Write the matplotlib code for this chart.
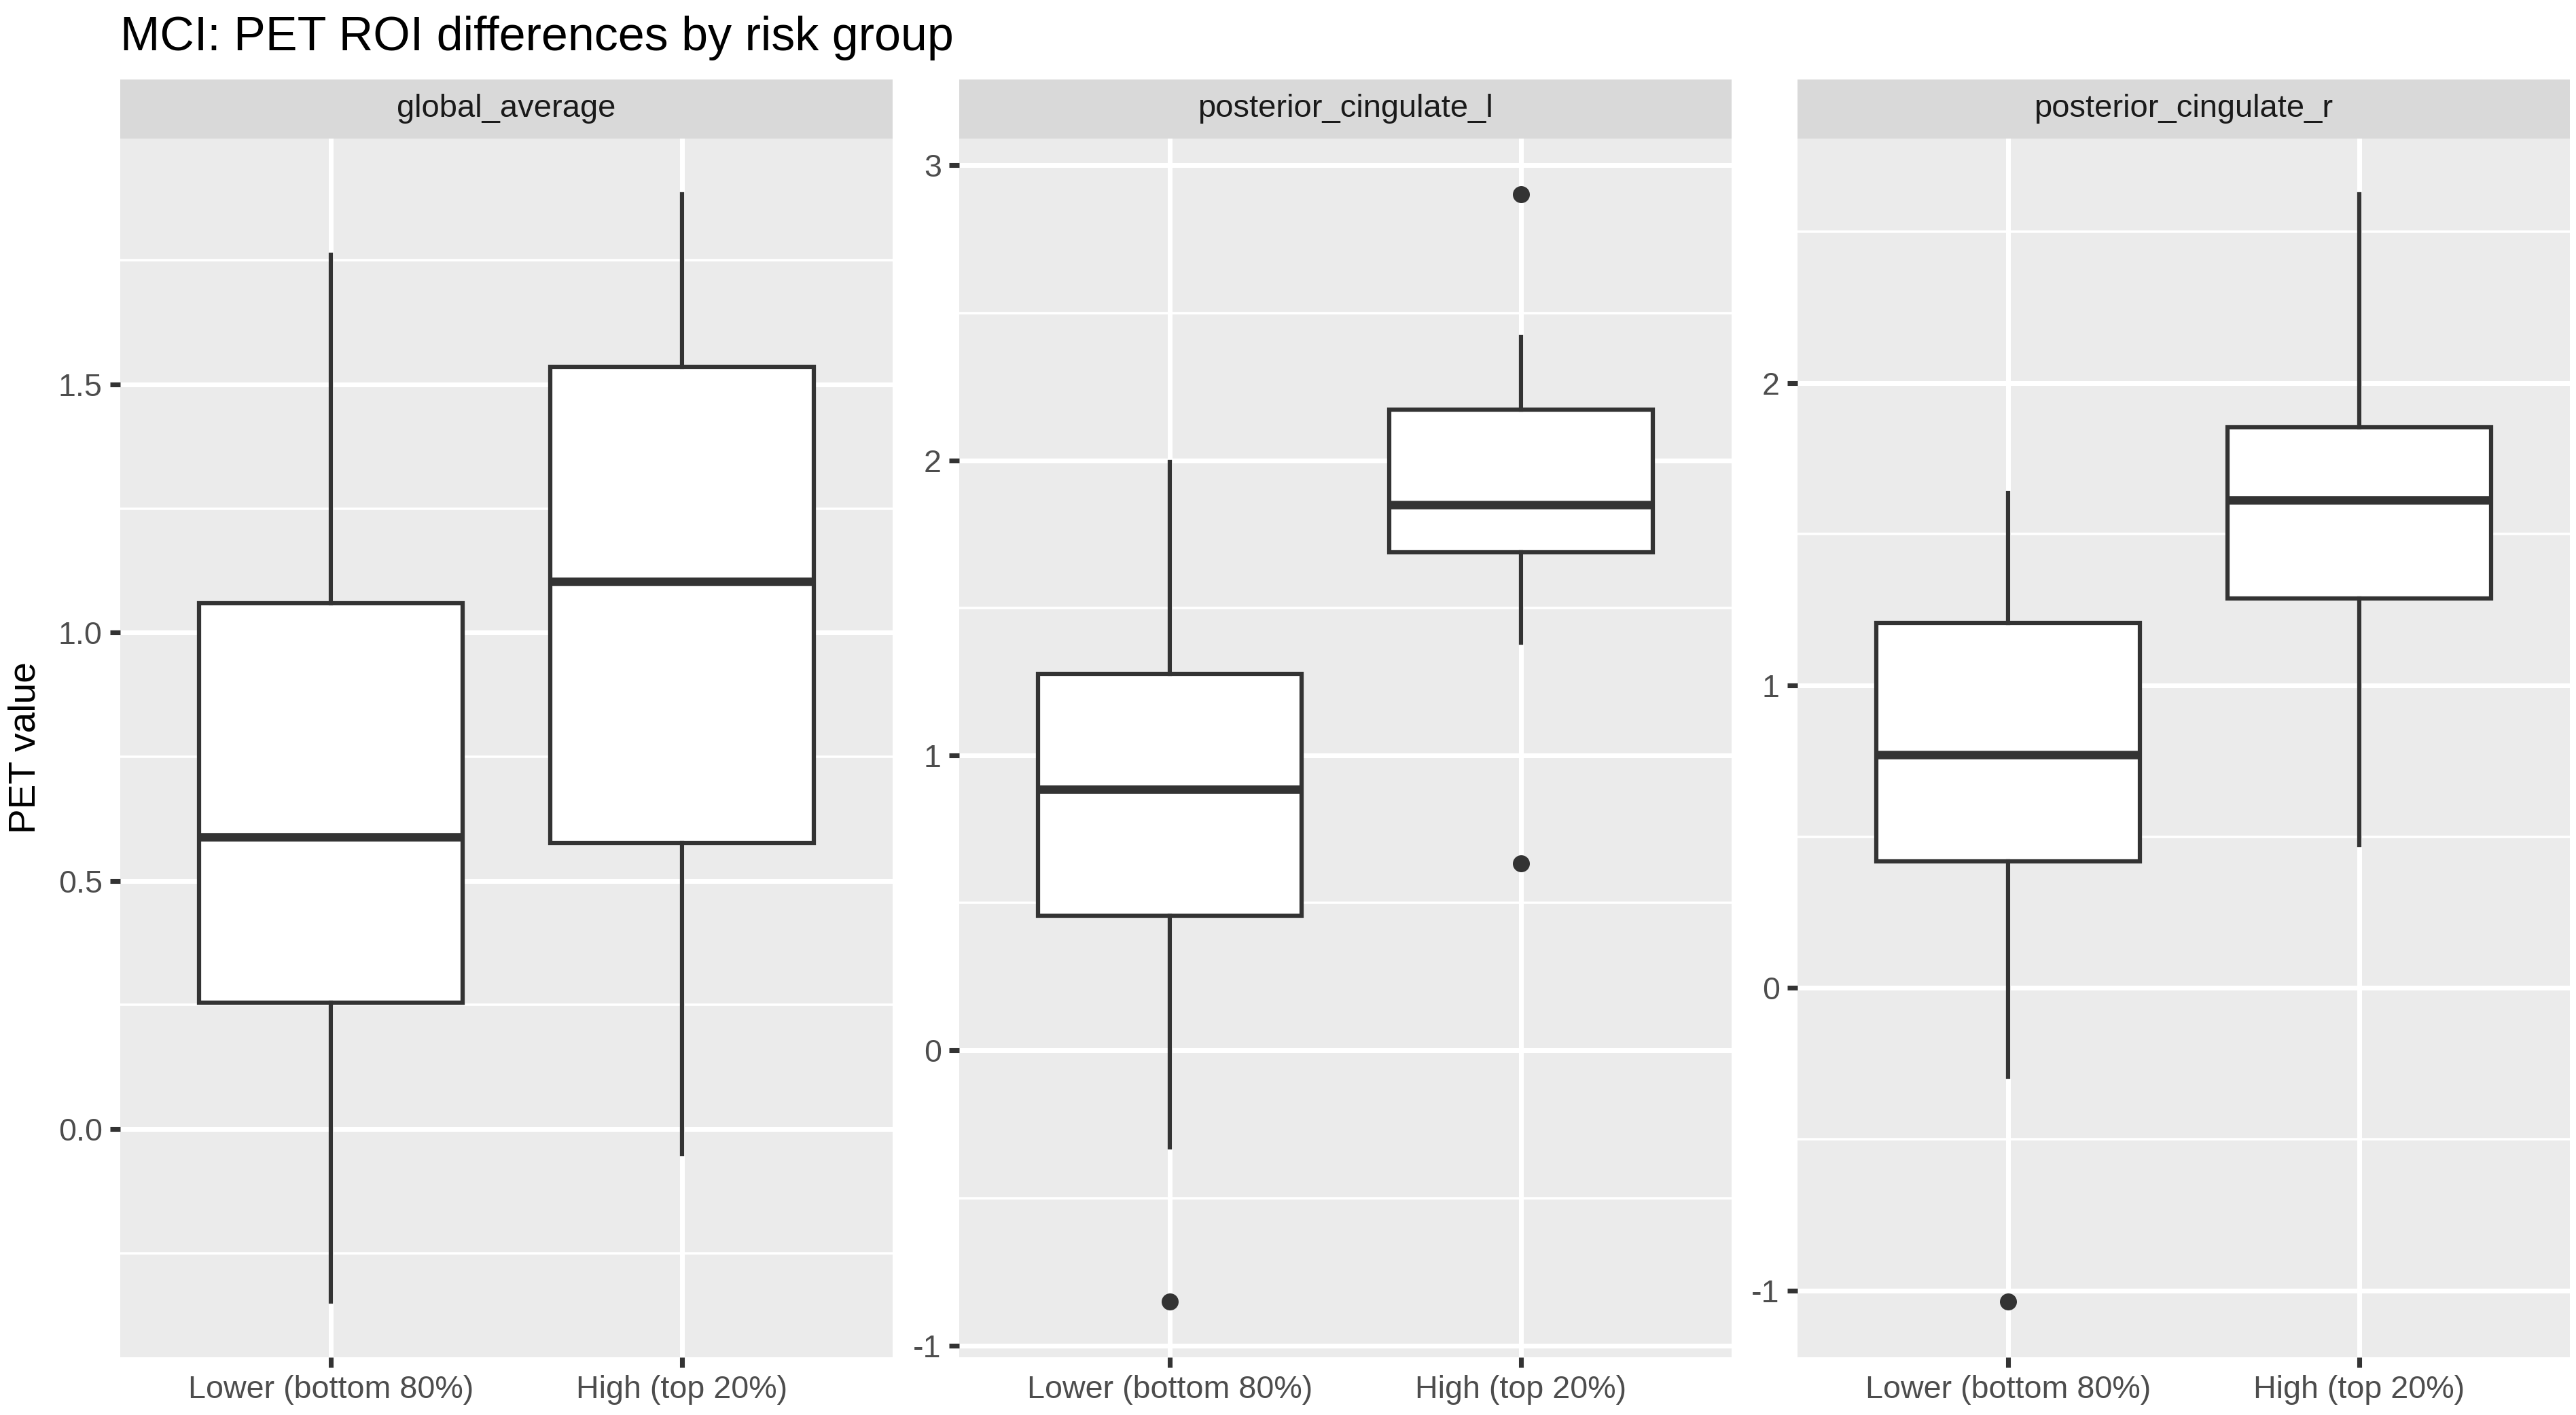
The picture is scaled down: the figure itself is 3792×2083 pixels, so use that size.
import matplotlib
matplotlib.use("Agg")
import matplotlib.pyplot as plt
from matplotlib.ticker import MultipleLocator

plt.rcParams['font.family'] = ['Liberation Sans', 'DejaVu Sans']

title = "MCI: PET ROI differences by risk group"
groups = ["Lower (bottom 80%)", "High (top 20%)"]
panels = ["global_average", "posterior_cingulate_l", "posterior_cingulate_r"]

# whisker low, q1, median, q3, whisker high, outliers
global_lower = [-0.348, 0.255, 0.589, 1.060, 1.762]
global_high = [-0.050, 0.576, 1.103, 1.536, 1.884]
global_out = [[], []]

pcl_lower = [-0.329, 0.457, 0.886, 1.276, 1.994]
pcl_high = [1.382, 1.688, 1.850, 2.173, 2.418]
pcl_out = [[-0.852], [2.903, 0.635]]

pcr_lower = [-0.293, 0.418, 0.772, 1.207, 1.636]
pcr_high = [0.473, 1.288, 1.614, 1.853, 2.625]
pcr_out = [[-1.038], []]

yticks = [[0.0, 0.5, 1.0, 1.5], [-1, 0, 1, 2, 3], [-1, 0, 1, 2]]
ytick_labels = [["0.0", "0.5", "1.0", "1.5"], ["-1", "0", "1", "2", "3"], ["-1", "0", "1", "2"]]

panel_data = [
    (global_lower, global_high, global_out),
    (pcl_lower, pcl_high, pcl_out),
    (pcr_lower, pcr_high, pcr_out),
]

W, H = 3792, 2083
dpi = 300
fig = plt.figure(figsize=(W / dpi, H / dpi), dpi=dpi)

lefts = [177, 1412, 2646]
pw = 1137
top, bottom = 204, 1998
strip_top = 117

for i, (lo, hi, outs) in enumerate(panel_data):
    ax = fig.add_axes([lefts[i] / W, 1 - bottom / H, pw / W, (bottom - top) / H])
    ax.set_facecolor("#EBEBEB")
    stats = []
    for vals, fl, lab in zip([lo, hi], outs, groups):
        stats.append(dict(whislo=vals[0], q1=vals[1], med=vals[2], q3=vals[3],
                          whishi=vals[4], fliers=fl, label=lab))
    ax.bxp(stats, positions=[1, 2], widths=0.75, patch_artist=True, showcaps=False,
           boxprops=dict(facecolor="white", edgecolor="#333333", linewidth=1.5),
           whiskerprops=dict(color="#333333", linewidth=1.5),
           medianprops=dict(color="#333333", linewidth=3.0, solid_capstyle="butt"),
           flierprops=dict(marker="o", markerfacecolor="#333333", markeredgecolor="#333333",
                           markersize=5),
           zorder=3)
    # y-range from data with 5% expansion
    allv = lo + hi + [v for o in outs for v in o]
    ymin, ymax = min(allv), max(allv)
    pad = (ymax - ymin) * 0.05
    ax.set_ylim(ymin - pad, ymax + pad)
    ax.set_xlim(0.4, 2.6)
    ax.set_yticks(yticks[i])
    ax.set_yticklabels(ytick_labels[i])
    ax.yaxis.set_minor_locator(MultipleLocator(0.25 if i == 0 else 0.5))
    ax.set_xticks([1, 2])
    ax.set_xticklabels(groups)
    ax.grid(which="major", color="white", linewidth=1.7, zorder=0)
    ax.grid(which="minor", axis="y", color="white", linewidth=0.85, zorder=0)
    ax.set_axisbelow(True)
    for s in ax.spines.values():
        s.set_visible(False)
    ax.tick_params(which="major", length=3.5, width=1.7, color="#333333",
                   labelcolor="#4D4D4D", labelsize=11.2, pad=2.8)
    ax.tick_params(which="minor", length=0)
    # strip
    sax = fig.add_axes([lefts[i] / W, 1 - top / H, pw / W, (top - strip_top) / H])
    sax.set_facecolor("#D9D9D9")
    sax.set_xticks([])
    sax.set_yticks([])
    for s in sax.spines.values():
        s.set_visible(False)
    sax.text(0.5, 0.5, panels[i], ha="center", va="center", fontsize=11.3,
             color="#1A1A1A", transform=sax.transAxes)

fig.text(177 / W, 1 - 74 / H, title, ha="left", va="baseline", fontsize=16.8, color="black")
fig.text(38 / W, 1 - (top + bottom) / 2 / H, "PET value", rotation=90, ha="center",
         va="center", fontsize=13.2, color="black")

fig.savefig("out.png", dpi=dpi)
